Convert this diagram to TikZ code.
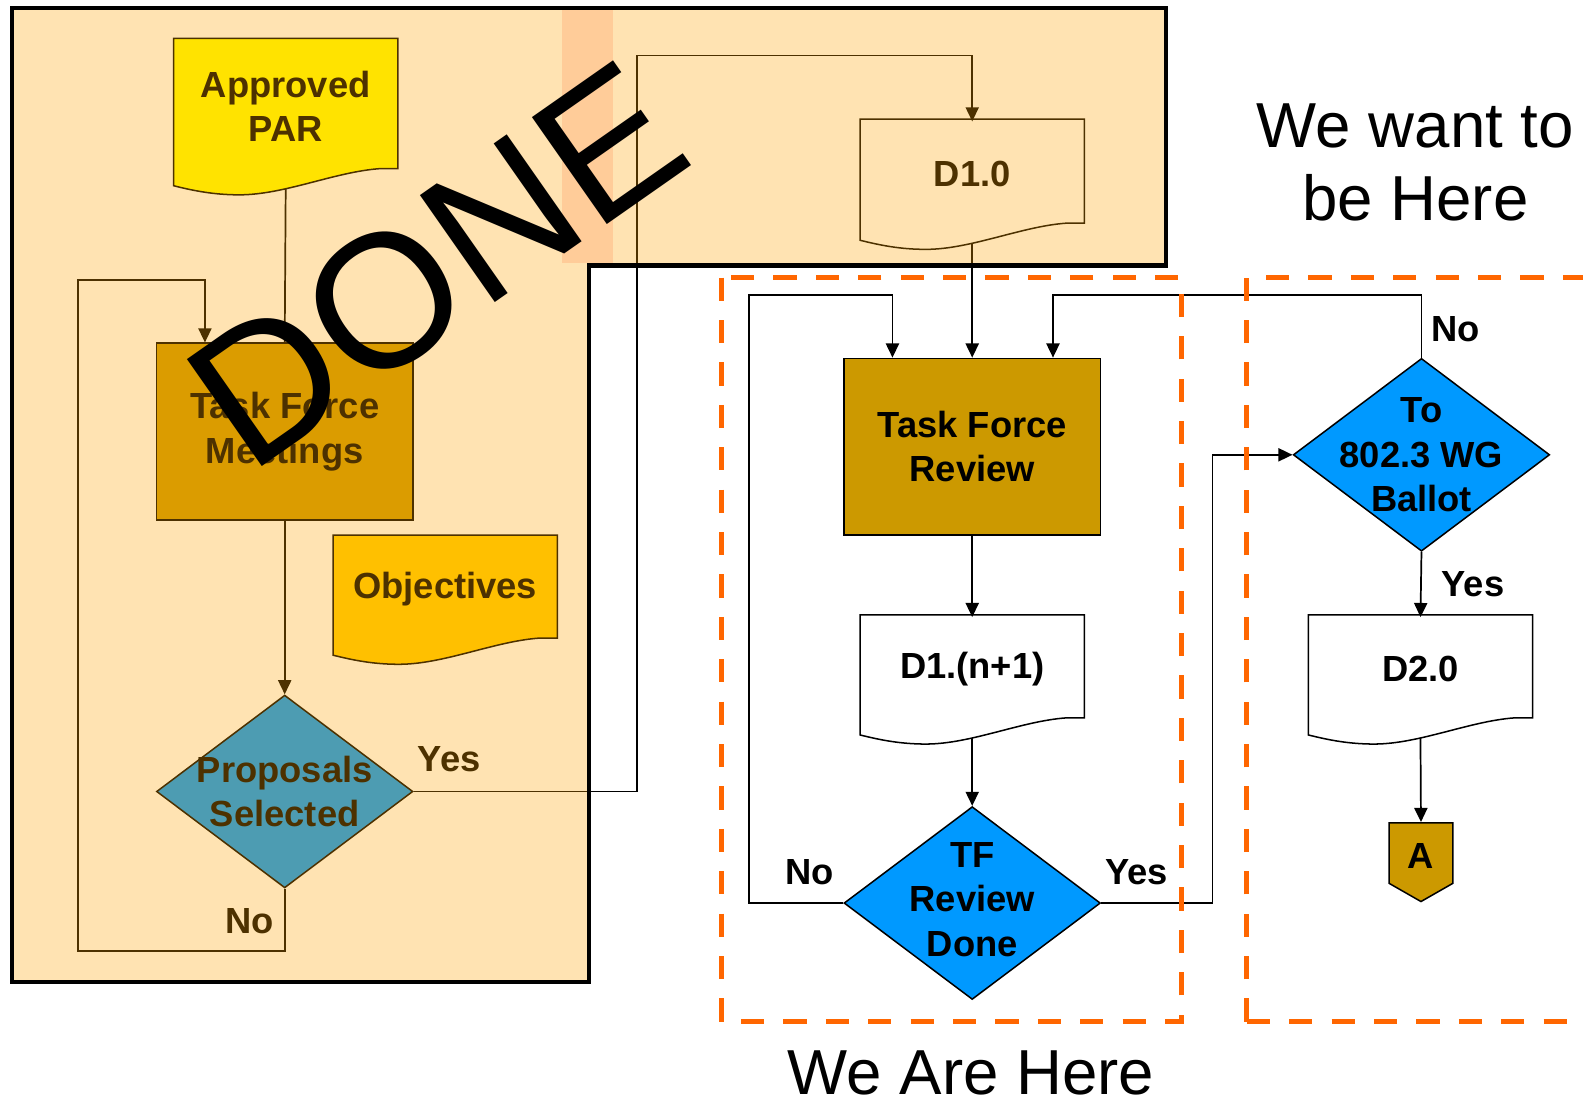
\documentclass[tikz,border=0pt]{standalone}
\usepackage{fontspec}
\setmainfont{Liberation Sans}
\usetikzlibrary{arrows.meta,shapes.geometric}

\definecolor{tfgold}{HTML}{CC9900}
\definecolor{decblue}{HTML}{0099FF}
\definecolor{paryellow}{HTML}{FFFF00}
\definecolor{objyellow}{HTML}{FFCC00}
\definecolor{donetint}{HTML}{FFA500}
\definecolor{peach}{HTML}{FFCC99}
\definecolor{dashorange}{HTML}{FF6600}

\newcommand{\flowfont}{\fontsize{18}{22}\selectfont\bfseries}
\newcommand{\bigfont}{\fontsize{31.5}{36.5}\selectfont}
\newcommand{\doneoutline}{(12,8) -- (1155,8) -- (1155,263) -- (583,263) -- (583,973) -- (12,973) -- cycle}

% document shape: name, left, top, right height, fill, text
\newcommand{\docshape}[6]{%
	\draw [line width=0.75pt, fill=#5] (#2,#3) -- ++(222,0) -- ++(0,#4) -- ++(-17,0)
		.. controls +(-45,3) and +(45,0) .. ++(-140,26)
		.. controls +(-25,0) and +(20,5) .. ++(-65,-9) -- cycle ;
	\node [docnode, minimum height=#4*0.5pt] (#1) at (#2+111,#3+#4/2+3) {#6};
	\coordinate (#1-foot) at (#2+111,#3+#4+20);
}

\tikzset{every picture/.style={line width=0.75pt}}
\tikzset{
	docnode/.style={minimum width=111pt, inner sep=0pt, font=\flowfont, align=center},
	process/.style={draw, line width=0.75pt, fill=tfgold, minimum width=127pt, minimum height=87.5pt, inner sep=0pt, font=\flowfont, align=center},
	decision/.style={diamond, draw, line width=0.75pt, fill=decblue, minimum width=127pt, minimum height=95.5pt, inner sep=0pt},
	decisiontext/.style={font=\flowfont, align=center, inner sep=0pt},
	flowlbl/.style={font=\flowfont, inner sep=0pt},
	conn/.style={line width=0.85pt},
	arr/.style={conn, -{Triangle[length=7pt,width=6.5pt]}},
	bigtext/.style={font=\bigfont, align=center, inner sep=0pt},
	heredash/.style={draw=dashorange, line width=2.5pt, dash pattern=on 11.5pt off 9.5pt},
}

\begin{document}
\begin{tikzpicture}[x=0.5pt,y=0.5pt,yscale=-1,xscale=1]
	\useasboundingbox (0,0) rectangle (1568,1095);

	%Shape: Done area background
	\fill [white] \doneoutline;

	%Shape: Documents and boxes (done part)
	\docshape{par}{172}{38}{129}{paryellow}{Approved\\PAR}
	\node [process] (tfm) at (282,427.5) {Task Force\\Meetings};
	\docshape{obj}{330}{530}{102}{objyellow}{Objectives}
	\node [decision] (prop) at (282,784) {};
	\node [decisiontext] (proptxt) at (prop) {Proposals\\Selected};
	\docshape{d10}{852}{118}{103}{white}{D1.0}

	%Shape: Boxes (current part)
	\node [process] (tfr) at (963,442.5) {Task Force\\Review};
	\docshape{d1n}{852}{609}{102}{white}{D1.(n+1)}
	\node [decision] (tfd) at (963,894.5) {};
	\node [decisiontext] (tfdtxt) at (963,891) {TF\\Review\\Done};
	\node [decision] (ballot) at (1408,450.5) {};
	\node [decisiontext] (ballottxt) at (ballot) {To\\802.3 WG\\Ballot};
	\docshape{d20}{1296}{609}{102}{white}{D2.0}
	%Shape: Off page connector
	\draw [line width=0.75pt, fill=tfgold] (1376,815) -- (1439,815) -- (1439,875) -- (1407.5,893) -- (1376,875) -- cycle ;
	\node [flowlbl, minimum width=31.5pt, minimum height=33pt] (conA) at (1407.5,848) {A};

	%Straight Lines
	\coordinate (propyesbend) at (631,55);
	\coordinate (propnoA) at (77,942);
	\coordinate (propnoB) at (203,277);
	\coordinate (tfdnobend) at (742,292);
	\coordinate (tfdnoin) at (884,292);
	\coordinate (tfdyesbend) at (1201,450.5);
	\coordinate (ballotnobend) at (1043,292);

	\draw [conn] (par-foot) -- (tfm.north);
	\draw [arr] (tfm.south) -- (prop.north);
	\draw [arr] (prop.east) -| (propyesbend) -| (d10.north);
	\draw [arr] (prop.south) |- (propnoA) |- (propnoB) -- (propnoB |- tfm.north);
	\draw [arr] (d10-foot) -- (tfr.north);
	\draw [arr] (tfr.south) -- (d1n.north);
	\draw [arr] (d1n-foot) -- (tfd.north);
	\draw [arr] (tfd.west) -| (tfdnobend) -- (tfdnoin) -- (tfdnoin |- tfr.north);
	\draw [arr] (tfd.east) -| (tfdyesbend) -- (ballot.west);
	\draw [arr] (ballot.north) |- (ballotnobend) -- (ballotnobend |- tfr.north);
	\draw [arr] (ballot.south) -- (d20.north);
	\draw [arr] (d20-foot) -- (conA.north);

	% Text Node
	\node [flowlbl] (propyes) at (445,752) {Yes};
	% Text Node
	\node [flowlbl] (propno) at (247,912) {No};
	% Text Node
	\node [flowlbl] (tfdno) at (802,864) {No};
	% Text Node
	\node [flowlbl] (tfdyes) at (1126,864) {Yes};
	% Text Node
	\node [flowlbl] (ballotno) at (1442,326) {No};
	% Text Node
	\node [flowlbl] (ballotyes) at (1459,579) {Yes};

	%Shape: Done tint
	\fill [donetint, fill opacity=0.3] \doneoutline;
	\fill [peach] (557,10) rectangle (607,261);
	\draw [line width=2pt] \doneoutline;

	%Shape: Dashed frames
	\draw [heredash] (715,275) rectangle (1170,1012);
	\draw [heredash] (1235,1012) -- (1235,275) -- (1600,275);
	\draw [heredash] (1235,1012) -- (1600,1012);

	% Text Node
	\node [rotate=35, inner sep=0pt, font=\fontsize{94}{94}\selectfont] (donemark) at (432,262) {DONE};
	% Text Node
	\node [bigtext] (wantlbl) at (1402,161) {We want to\\be Here};
	% Text Node
	\node [bigtext] (herelbl) at (962,1063) {We Are Here};

\end{tikzpicture}
\end{document}
